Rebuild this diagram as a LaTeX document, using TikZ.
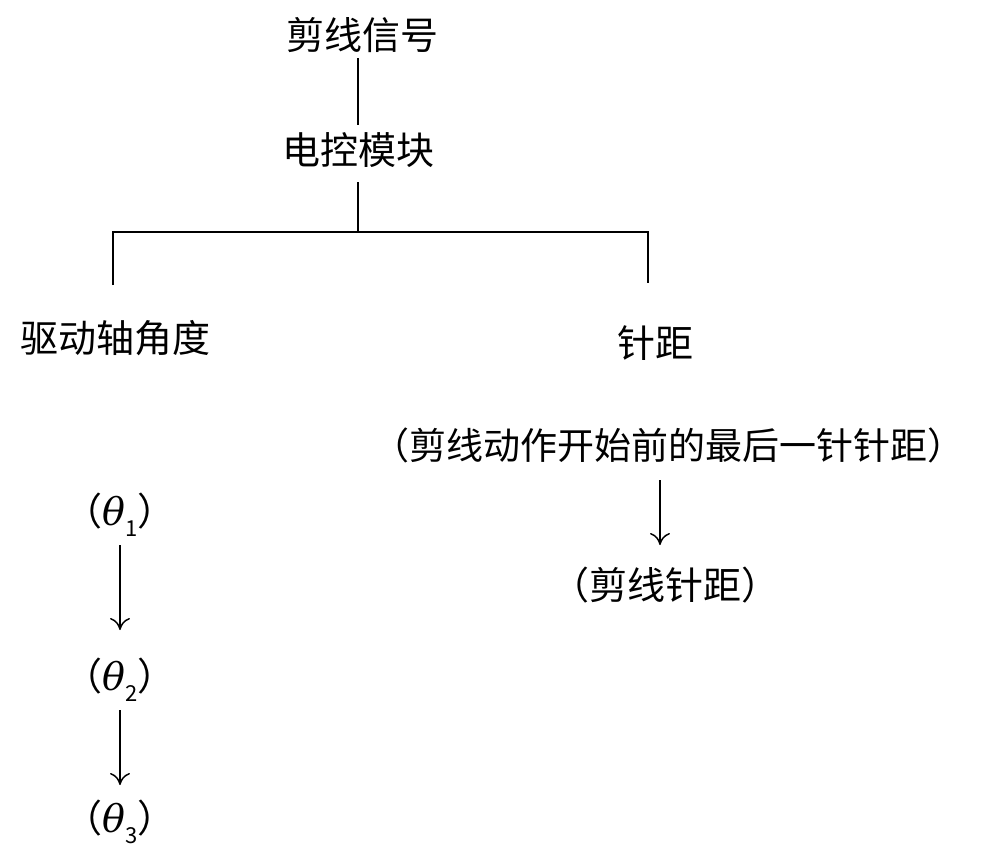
\documentclass[tikz,border=0pt]{standalone}
\usepackage{fontspec}
\setmainfont{Noto Sans CJK SC}
\newfontfamily\grk{DejaVu Serif}
\newcommand{\thsub}[1]{{\grk\itshape θ}\raisebox{-0.3em}{\fontsize{22}{24}\selectfont #1}}
\usetikzlibrary{arrows.meta}
\begin{document}
\begin{tikzpicture}[x=1pt,y=-1pt,
  lbl/.style={inner sep=0pt,font=\fontsize{38}{42}\selectfont},
  ln/.style={line width=1.5pt},
  arr/.style={line width=1.5pt,-{To[length=12pt,width=20pt]}}]
\useasboundingbox (0,0) rectangle (1000,857);
\node[lbl] (a) at (362,35) {剪线信号};
\node[lbl] (b) at (358,150) {电控模块};
\node[lbl] (c) at (115,338) {驱动轴角度};
\node[lbl] (d) at (655,343) {针距};
\node[lbl,font=\fontsize{37}{42}\selectfont] (e) at (668,445) {（剪线动作开始前的最后一针针距）};
\node[lbl] (f) at (665,585) {（剪线针距）};
\node[lbl] (t1) at (120,515) {（\thsub{1}）};
\node[lbl] (t2) at (120,680) {（\thsub{2}）};
\node[lbl] (t3) at (120,822) {（\thsub{3}）};
\coordinate (j) at (358,232);
\draw[ln] (358,58) -- (358,125);
\draw[ln] (358,182) -- (j);
\draw[ln] (113,285) -- (113,232) -- (648,232) -- (648,283);
\draw[arr] (660,480) -- (660,545);
\draw[arr] (120,545) -- (120,630);
\draw[arr] (120,710) -- (120,785);
\end{tikzpicture}
\end{document}
